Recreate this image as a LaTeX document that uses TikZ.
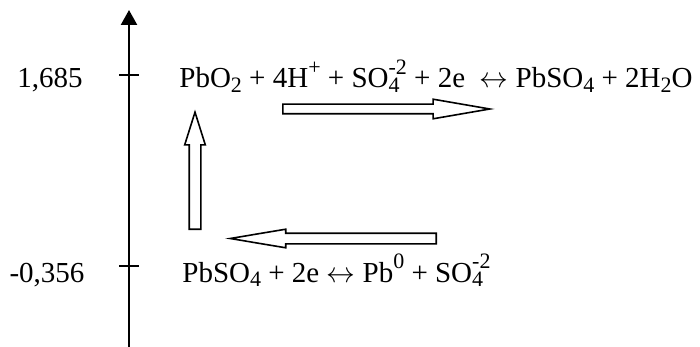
\documentclass[tikz,border=0pt]{standalone}
\usepackage{fontspec}
\setmainfont{Liberation Serif}
\usetikzlibrary{arrows.meta,shapes.arrows}

\newcommand{\chsub}[1]{\raisebox{-0.17em}{\fontsize{11}{11}\selectfont #1}}
\newcommand{\chsup}[1]{\raisebox{0.45em}{\fontsize{11}{11}\selectfont #1}}
\newcommand{\chss}[2]{\rlap{\chsub{#1}}\chsup{#2}}

\begin{document}
\begin{tikzpicture}[
  x=0.5pt, y=-0.5pt,
  every node/.style={font=\fontsize{14.5}{17}\selectfont},
  eq/.style={inner sep=0pt, anchor=base west},
  val/.style={inner sep=0pt, anchor=base},
  axis/.style={line width=1.2pt, -{Triangle[length=7.5pt,width=8pt]}},
  tick/.style={line width=1pt},
  hollow/.style={single arrow, draw, line width=0.8pt, inner xsep=0pt,
    minimum width=0pt, anchor=tail}
]
\useasboundingbox (0,0) rectangle (700,347);

% potential axis
\coordinate (axbot) at (129,347);
\coordinate (axtop) at (129,10);
\draw[axis] (axbot) -- (axtop);
\coordinate (hi) at (129,75);
\coordinate (lo) at (129,266);
\draw[tick] ([xshift=-5pt]hi) -- ([xshift=5pt]hi);
\draw[tick] ([xshift=-5pt]lo) -- ([xshift=5pt]lo);
\node[val] (vhi) at (50,88) {1,685};
\node[val] (vlo) at (47,282) {-0,356};

% half reactions
\node[eq] (cathode) at (179,88) {PbO\chsub{2} + 4H\chsup{+} + SO\chss{4}{-2} + 2e\enspace$\leftrightarrow$ PbSO\chsub{4} + 2H\chsub{2}O};
\node[eq] (anode) at (182,282) {PbSO\chsub{4} + 2e $\leftrightarrow$ Pb\chsup{0} + SO\chss{4}{-2}};

% charge / discharge
\node[hollow, minimum height=103.5pt, inner ysep=2pt,
  single arrow head extend=2.5pt, single arrow tip angle=19.6] (fwd) at (282,109) {};
\node[hollow, rotate=90, minimum height=58.5pt, inner ysep=2.5pt,
  single arrow head extend=2.25pt, single arrow tip angle=35] (up) at (195,230) {};
\node[hollow, rotate=180, minimum height=103pt, inner ysep=2.25pt,
  single arrow head extend=2pt, single arrow tip angle=19] (back) at (437,238.5) {};
\end{tikzpicture}
\end{document}
